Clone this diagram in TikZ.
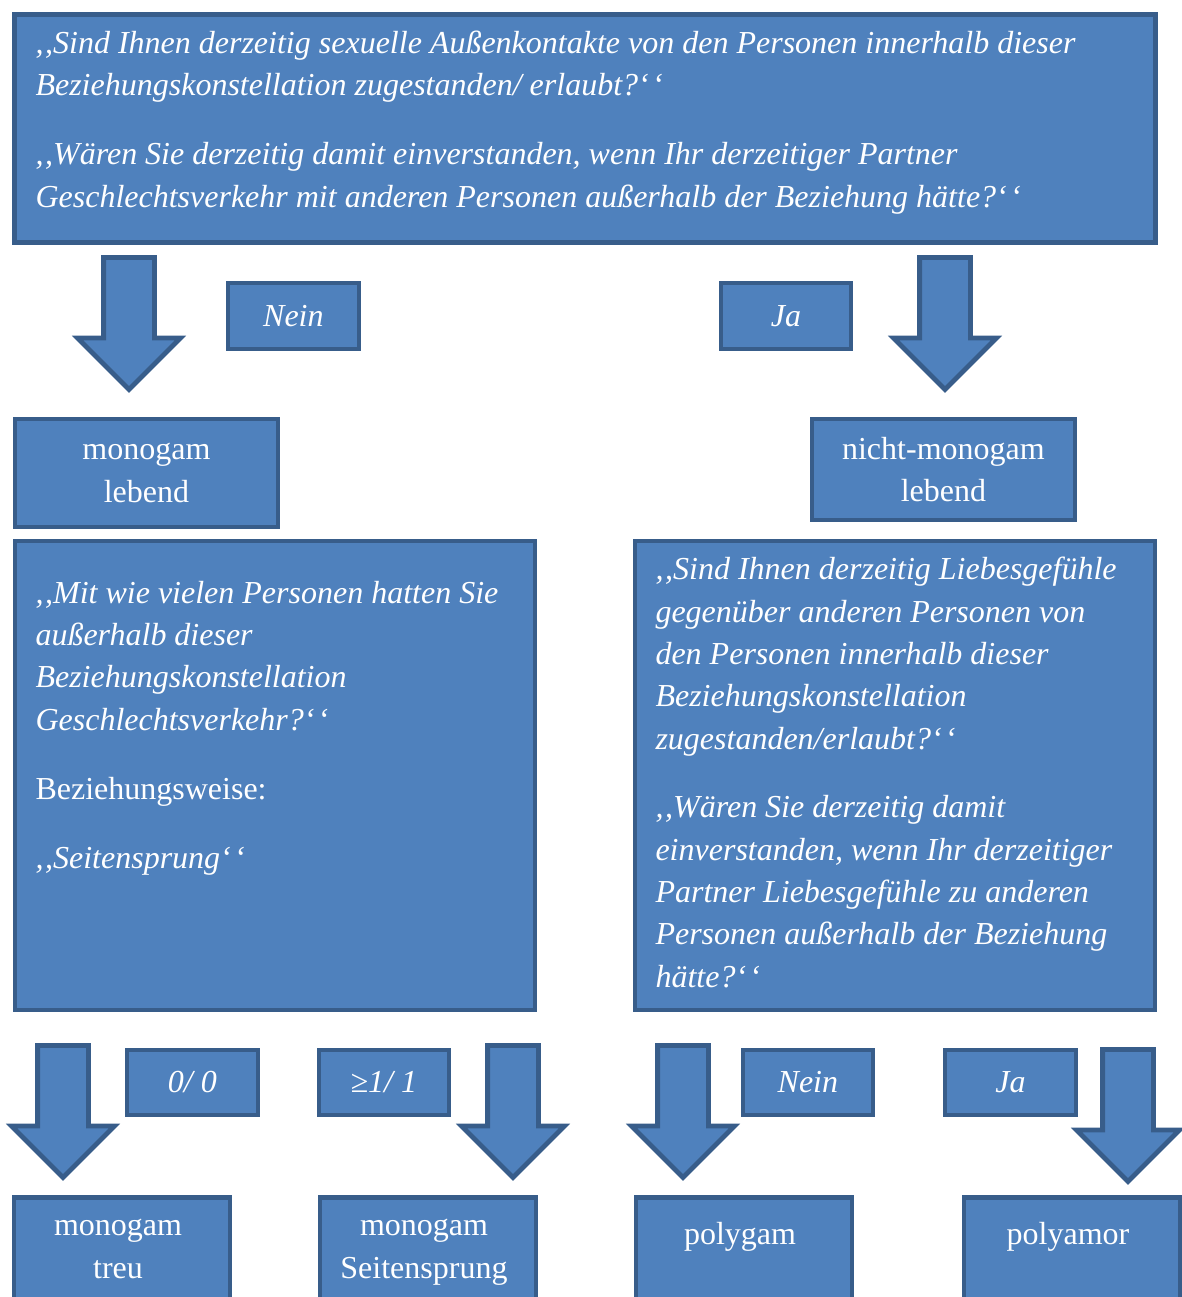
\documentclass[tikz,border=0pt]{standalone}
\usepackage{fontspec}
\setmainfont{Liberation Serif}
\usetikzlibrary{positioning,shapes.arrows}

\definecolor{boxfill}{HTML}{4F81BD}
\definecolor{boxline}{HTML}{385D8A}
\newcommand{\px}{0.375pt}
\newcommand{\oq}{,\kern0.6pt,}
\newcommand{\cq}{‘\kern1.2pt‘}

\tikzset{
  box/.style={draw=boxline, fill=boxfill, line width=1.8pt, inner sep=0pt, anchor=north west,
    text=white, font=\fontsize{12}{15.85}\selectfont},
  answer/.style={box, font=\fontsize{12}{15.85}\selectfont\itshape},
  group/.style={box, align=center},
  question/.style={text=white, inner sep=0pt, align=left, anchor=base west,
    font=\fontsize{12}{15.85}\selectfont\itshape},
  result/.style={text=white, inner sep=0pt, align=center, anchor=base,
    font=\fontsize{12}{15.85}\selectfont},
  down/.style={single arrow, draw=boxline, fill=boxfill, line width=1.8pt,
    shape border rotate=270, inner sep=23*\px, minimum height=132*\px,
    minimum width=100*\px, single arrow head extend=26*\px,
    single arrow tip angle=90, anchor=tail}
}

\begin{document}
\begin{tikzpicture}[x=0.375pt, y=-0.375pt]
\useasboundingbox (0,0) rectangle (1182,1297);

% first question (text placed by its last baseline)
\node [box, minimum width=1141*\px, minimum height=228*\px] (q1) at (12,12) {};
\node [question] (q1text) at (35,207)
  {\oq Sind Ihnen derzeitig sexuelle Außenkontakte von den Personen innerhalb dieser\\
   Beziehungskonstellation zugestanden/ erlaubt?\cq\\[10pt]
   \oq Wären Sie derzeitig damit einverstanden, wenn Ihr derzeitiger Partner\\
   Geschlechtsverkehr mit anderen Personen außerhalb der Beziehung hätte?\cq};

\node [down] (arrnein) at (129,255) {};
\node [answer, minimum width=131*\px, minimum height=66*\px] (nein) at (225.5,280.5) {Nein};
\node [answer, minimum width=130*\px, minimum height=66*\px] (ja) at (718.5,280.5) {Ja};
\node [down] (arrja) at (945,255) {};

\node [group, minimum width=263*\px, minimum height=108*\px] (mono) at (12.5,416.5) {monogam\\lebend};
\node [group, minimum width=263*\px, minimum height=101*\px] (nonmono) at (809.5,416.5) {nicht-monogam\\lebend};

% second questions
\node [box, minimum width=520*\px, minimum height=469*\px] (q2) at (12.5,538.5) {};
\node [question] (q2text) at (35,868)
  {\oq Mit wie vielen Personen hatten Sie\\
   außerhalb dieser\\
   Beziehungskonstellation\\
   Geschlechtsverkehr?\cq\\[10pt]
   {\upshape Beziehungsweise:}\\[10pt]
   \oq Seitensprung\cq};

\node [box, minimum width=520*\px, minimum height=469*\px] (q3) at (632.5,538.5) {};
\node [question] (q3text) at (655,987)
  {\oq Sind Ihnen derzeitig Liebesgefühle\\
   gegenüber anderen Personen von\\
   den Personen innerhalb dieser\\
   Beziehungskonstellation\\
   zugestanden/erlaubt?\cq\\[10pt]
   \oq Wären Sie derzeitig damit\\
   einverstanden, wenn Ihr derzeitiger\\
   Partner Liebesgefühle zu anderen\\
   Personen außerhalb der Beziehung\\
   hätte?\cq};

% answers below
\node [down] (arrtreu) at (63,1043) {};
\node [answer, minimum width=131*\px, minimum height=65*\px] (null) at (124.5,1047.5) {0/ 0};
\node [answer, minimum width=130*\px, minimum height=65*\px] (eins) at (316.5,1047.5) {≥1/ 1};
\node [down] (arrseite) at (513,1043) {};
\node [down] (arrpolyg) at (683,1043) {};
\node [answer, minimum width=130*\px, minimum height=65*\px] (nein2) at (740.5,1047.5) {Nein};
\node [answer, minimum width=131*\px, minimum height=65*\px] (ja2) at (942.5,1047.5) {Ja};
\node [down] (arrpolya) at (1128,1047) {};

% results
\node [box, minimum width=216*\px, minimum height=120*\px] (treu) at (11.5,1195) {};
\node [box, minimum width=216*\px, minimum height=120*\px] (seite) at (317.5,1195) {};
\node [box, minimum width=216*\px, minimum height=120*\px] (polyg) at (633.5,1195) {};
\node [box, minimum width=216*\px, minimum height=120*\px] (polya) at (961.5,1195) {};
\node [result] (treutext) at (118,1278) {monogam\\treu};
\node [result] (seitetext) at (424,1278) {monogam\\Seitensprung};
\node [result] (polygtext) at (740,1244) {polygam};
\node [result] (polyatext) at (1068,1244) {polyamor};
\end{tikzpicture}
\end{document}
